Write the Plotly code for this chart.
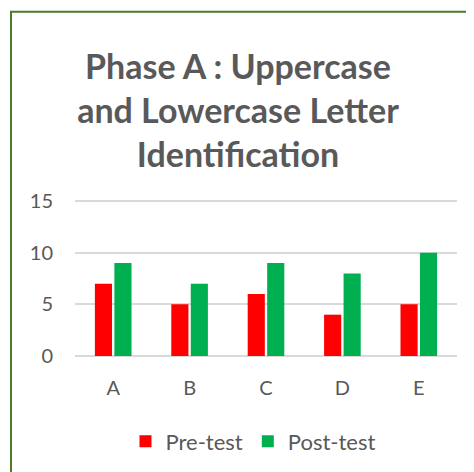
import plotly.graph_objects as go

categories = ["A", "B", "C", "D", "E"]
pre_test = [7, 5, 6, 4, 5]
post_test = [9, 7, 9, 8, 10]
y_ticks = [0, 5, 10, 15]

W, H = 474, 472
OFF = 8  # page body margin offset
Y_MAX = 15.3
# reference pixel geometry of plot area
ref_left, ref_right = 75, 457
ref_zero, ref_15 = 355.7, 201
unit = (ref_zero - ref_15) / 15
ref_top = ref_zero - Y_MAX * unit

L = ref_left - OFF
R = W - (ref_right - OFF)
T = ref_top - OFF
B = H - (ref_zero - OFF)
pw, ph = W - L - R, H - T - B

def px_x(x):
    return (x - OFF - L) / pw

def px_y(y):
    return (H - B - (y - OFF)) / ph

fig = go.Figure()
fig.add_trace(go.Bar(name="Pre-test", x=categories, y=pre_test,
                     marker=dict(color="#ff0000", line=dict(width=0))))
fig.add_trace(go.Bar(name="Post-test", x=categories, y=post_test,
                     marker=dict(color="#00b050", line=dict(width=0))))

font_main = "Lato, Calibri, Carlito, sans-serif"

fig.update_layout(
    width=W, height=H,
    margin=dict(l=L, r=R, t=T, b=B, autoexpand=False),
    paper_bgcolor="white", plot_bgcolor="white",
    barmode="group", bargap=0.49, bargroupgap=0.12,
    font=dict(family=font_main, color="#595959", size=20),
    title=dict(
        text="Phase A : Uppercase<br>and Lowercase Letter<br>Identification",
        font=dict(family=font_main, size=34, color="#595959", weight="bold"),
        x=px_x(238), xanchor="center", xref="paper",
        y=1 - (79 - OFF) / H, yanchor="top", yref="container",
    ),
    xaxis=dict(showgrid=False, showline=False, ticks="", zeroline=False,
               tickfont=dict(size=20, color="#595959"), ticklabelstandoff=18),
    yaxis=dict(range=[0, Y_MAX], tickvals=y_ticks, showgrid=True,
               gridcolor="#d9d9d9", gridwidth=1.5, zeroline=True,
               zerolinecolor="#d9d9d9", zerolinewidth=1.5, showline=False,
               ticks="", tickfont=dict(size=20, color="#595959"),
               ticklabelstandoff=21),
    showlegend=True,
    legend=dict(orientation="h", x=px_x(253), xanchor="center",
                y=px_y(441), yanchor="middle", font=dict(size=22, color="#595959"),
                itemwidth=30, traceorder="normal"),
    shapes=[dict(type="rect", xref="paper", yref="paper",
                 x0=px_x(11), x1=px_x(495), y0=px_y(495), y1=px_y(12),
                 line=dict(color="#4e7a2e", width=2), fillcolor="rgba(0,0,0,0)",
                 layer="below")],
)

fig.write_html("out.html")
